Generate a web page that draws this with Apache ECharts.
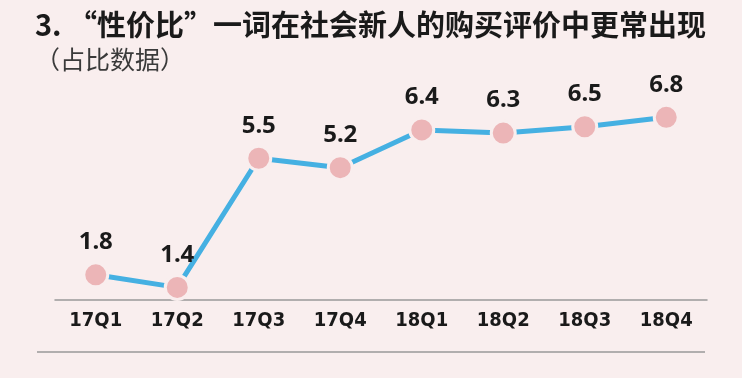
<!DOCTYPE html>
<html><head><meta charset="utf-8">
<script src="https://cdn.jsdelivr.net/npm/echarts@6/dist/echarts.min.js"></script>
<style>html,body{margin:0;padding:0;background:#f9eeee;}#c{width:742px;height:378px;}</style>
</head><body><div id="c"></div>
<script>
const categories = ['17Q1','17Q2','17Q3','17Q4','18Q1','18Q2','18Q3','18Q4'];
const values = [1.8, 1.4, 5.5, 5.2, 6.4, 6.3, 6.5, 6.8];
const titleText = '3. \u201c性价比\u201d一词在社会新人的购买评价中更常出现';
const subtitleText = '（占比数据）';

const bg = '#f9eeee';
const chart = echarts.init(document.getElementById('c'));
chart.setOption({
  backgroundColor: bg,
  title: {
    text: titleText, subtext: subtitleText, left: 30, top: 5, itemGap: 8,
    textStyle: {fontFamily: 'Noto Sans CJK SC', fontWeight: 'bold', fontSize: 29, color: '#1a1a1a'},
    subtextStyle: {fontFamily: 'Noto Sans CJK SC', fontSize: 25, color: '#3a3a3a'}
  },
  grid: {left: 55, right: 35, top: 111, bottom: 78},
  xAxis: {
    type: 'category', data: categories, boundaryGap: true,
    axisLine: {lineStyle: {color: '#999', width: 1.5}},
    axisTick: {inside: true, length: 4, lineStyle: {color: '#999'}},
    axisLabel: {margin: 11, fontFamily: 'DejaVu Sans Condensed', fontWeight: 'bold', fontSize: 20, color: '#1a1a1a'}
  },
  yAxis: {type: 'value', min: 1, max: 7, show: false, splitLine: {show: false}},
  graphic: [{type: 'line', shape: {x1: 37, y1: 352, x2: 705, y2: 352}, style: {stroke: '#999', lineWidth: 1.5}}],
  series: [{
    type: 'line', data: values, symbol: 'circle', symbolSize: 24,
    lineStyle: {color: '#45b0e2', width: 5},
    itemStyle: {color: '#ecb5b7', borderColor: bg, borderWidth: 3},
    label: {show: true, position: 'top', distance: 7, fontFamily: 'Noto Sans', fontWeight: 'bold', fontSize: 24, color: '#1a1a1a'},
    z: 3
  }]
});
</script></body></html>
